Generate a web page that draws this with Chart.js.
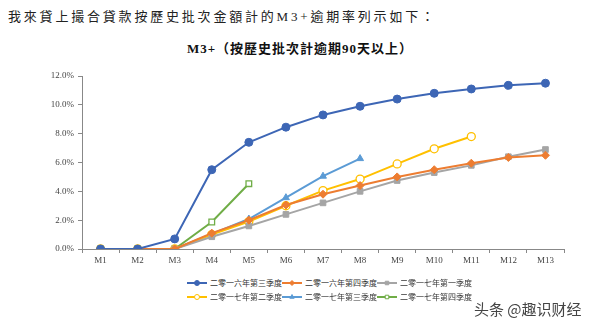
<!DOCTYPE html>
<html>
<head>
<meta charset="utf-8">
<script src="https://cdn.jsdelivr.net/npm/chart.js@4/dist/chart.umd.min.js"></script>
<style>
  body { margin: 0; width: 593px; height: 324px; background: #fff; position: relative; overflow: hidden;
         font-family: "Liberation Serif", "Noto Sans CJK TC", serif; }
  #intro { position: absolute; left: 8px; top: 6px; font-size: 13px; color: #222; letter-spacing: 2.8px; }
  #title { position: absolute; left: 0; width: 600px; top: 38px; text-align: center; font-size: 13px; font-weight: bold; color: #111; letter-spacing: 1px; }
  #wrap { position: absolute; left: 0; top: 60px; width: 593px; height: 210px; }
  #legend { position: absolute; left: 187px; top: 277px; width: 300px; font-size: 8px; color: #333; font-family: "Noto Sans CJK TC", sans-serif; }
  .item { position: absolute; display: flex; align-items: center; }
  .item canvas { margin-right: 3px; }
  #mark { position: absolute; left: 474px; top: 298px; font-size: 15px; color: #444; font-family: "Noto Sans CJK SC", sans-serif; }
</style>
</head>
<body>
<div id="intro">我來貸上撮合貸款按歷史批次金額計的M3+逾期率列示如下：</div>
<div id="title">M3+（按歷史批次計逾期90天以上）</div>
<div id="wrap"><canvas id="c"></canvas></div>
<div id="legend"></div>
<div id="mark">头条 @趣识财经</div>
<script>
const months = ["M1","M2","M3","M4","M5","M6","M7","M8","M9","M10","M11","M12","M13"];
const seriesNames = ["二零一六年第三季度","二零一六年第四季度","二零一七年第一季度","二零一七年第二季度","二零一七年第三季度","二零一七年第四季度"];
const q3_2016 = [0, 0, 0.7, 5.5, 7.4, 8.45, 9.3, 9.9, 10.4, 10.8, 11.1, 11.35, 11.5];
const q4_2016 = [0, 0, 0, 1.1, 2.0, 3.05, 3.8, 4.4, 5.0, 5.5, 5.95, 6.35, 6.5];
const q1_2017 = [0, 0, 0, 0.85, 1.6, 2.4, 3.2, 4.0, 4.75, 5.3, 5.8, 6.4, 6.9];
const q2_2017 = [0, 0, 0, 1.0, 1.9, 3.0, 4.05, 4.85, 5.9, 6.95, 7.8];
const q3_2017 = [0, 0, 0, 1.05, 2.08, 3.56, 5.05, 6.27];
const q4_2017 = [0, 0, 0, 1.87, 4.53];
const yTicks = [0, 2, 4, 6, 8, 10, 12];

const colors = ["#3d66b5", "#ed7d31", "#a5a5a5", "#ffc000", "#5b9bd5", "#70ad47"];
const styles = ["circle", "rectRot", "rect", "circle", "triangle", "rect"];
const hollow = [false, false, false, true, false, true];
const allData = [q3_2016, q4_2016, q1_2017, q2_2017, q3_2017, q4_2017];

const datasets = allData.map((d, i) => ({
  label: seriesNames[i],
  data: d,
  borderColor: colors[i],
  backgroundColor: hollow[i] ? "#fff" : colors[i],
  pointBorderColor: colors[i],
  pointStyle: styles[i],
  pointRadius: 4,
  pointBorderWidth: hollow[i] ? 1.3 : 1,
  borderWidth: 2,
  tension: 0,
  fill: false
}));

new Chart(document.getElementById("c"), {
  type: "line",
  data: { labels: months, datasets },
  options: {
    responsive: true,
    maintainAspectRatio: false,
    animation: false,
    layout: { padding: { top: 16, right: 29, left: 0, bottom: 0 } },
    plugins: { legend: { display: false }, tooltip: { enabled: false } },
    scales: {
      x: {
        offset: true,
        grid: { offset: true, drawOnChartArea: false, color: "#888", tickLength: 4 },
        border: { color: "#888" },
        ticks: { color: "#444", font: { family: "Liberation Serif", size: 9 }, padding: 2, maxRotation: 0 },
        afterFit: s => { s.height = 21; }
      },
      y: {
        min: 0, max: 12,
        afterBuildTicks: s => { s.ticks = yTicks.map(v => ({ value: v })); },
        grid: { drawOnChartArea: false, color: "#888", tickLength: 4 },
        border: { color: "#888" },
        ticks: { color: "#444", font: { family: "Liberation Serif", size: 9 }, padding: 4,
                 callback: v => v.toFixed(1) + "%" },
        afterFit: s => { s.width = 82; }
      }
    }
  }
});

// legend
const legend = document.getElementById("legend");
const colX = [0, 95, 190];
seriesNames.forEach((name, i) => {
  const item = document.createElement("div");
  item.className = "item";
  item.style.left = colX[i % 3] + "px";
  item.style.top = (Math.floor(i / 3) * 14) + "px";
  const cv = document.createElement("canvas");
  cv.width = 20; cv.height = 10;
  const g = cv.getContext("2d");
  g.strokeStyle = colors[i]; g.lineWidth = 2;
  g.beginPath(); g.moveTo(0, 5); g.lineTo(20, 5); g.stroke();
  g.lineWidth = 1;
  g.fillStyle = hollow[i] ? "#fff" : colors[i];
  Chart.helpers.drawPoint(g, { pointStyle: styles[i], radius: 2.5, borderWidth: 1 }, 10, 5);
  item.appendChild(cv);
  const t = document.createElement("span");
  t.textContent = name;
  item.appendChild(t);
  legend.appendChild(item);
});
</script>
</body>
</html>
